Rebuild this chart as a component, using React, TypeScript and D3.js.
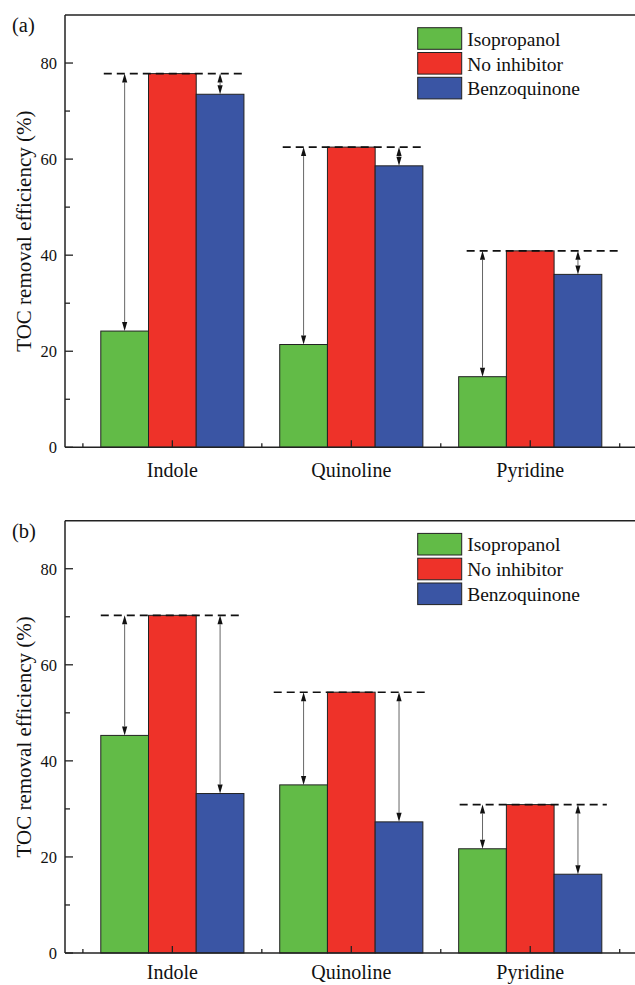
import React from "react";
import * as d3 from "d3";

const categories = ["Indole", "Quinoline", "Pyridine"];
const seriesNames = ["Isopropanol", "No inhibitor", "Benzoquinone"];
const seriesColors = ["#62BB47", "#EE3229", "#3A55A4"];

const aIsopropanol = [24.2, 21.4, 14.7];
const aNoInhibitor = [77.8, 62.5, 40.9];
const aBenzoquinone = [73.5, 58.6, 36.0];

const bIsopropanol = [45.3, 35.0, 21.7];
const bNoInhibitor = [70.3, 54.3, 30.9];
const bBenzoquinone = [33.2, 27.3, 16.4];

const yMajorTicks = [0, 20, 40, 60, 80];
const yMinorTicks = [10, 30, 50, 70];
const yDomain = [0, 90];
const xDomain = [0.4, 3.6];

// layout constants (pixels)
const W = 635;
const H = 985;
const LEFT = 65;
const RIGHT = 637.6;
const PLOT_H = 432.3;
const FONT = "'Liberation Serif', 'Times New Roman', serif";
// dashed reference line extension relative to green-left / blue-right, px
const dashA = [[3, 1], [3, 2], [8, 16]];
const dashB = [[0, -1], [-6, 3], [1, 5]];

type PanelProps = {
  top: number;
  label: string;
  iso: number[];
  none: number[];
  benzo: number[];
  dash: number[][];
  catOffset: number;
};

function Arrow({ x, y1, y2 }: { x: number; y1: number; y2: number }) {
  const hl = 9;
  const hw = 2.6;
  return (
    <g>
      <line x1={x} x2={x} y1={y1 + hl} y2={y2 - hl} stroke="#666" strokeWidth={1} />
      <path d={`M${x},${y1} L${x - hw},${y1 + hl} L${x + hw},${y1 + hl} Z`} fill="#111" />
      <path d={`M${x},${y2} L${x - hw},${y2 - hl} L${x + hw},${y2 - hl} Z`} fill="#111" />
    </g>
  );
}

function Panel({ top, label, iso, none, benzo, dash, catOffset }: PanelProps) {
  const bottom = top + PLOT_H;
  const y = d3.scaleLinear().domain(yDomain).range([bottom, top]);
  const x = d3.scaleLinear().domain(xDomain).range([LEFT, RIGHT]);
  const unit = x(1) - x(0);
  const bw = unit * (0.8 / 3);
  const series = [iso, none, benzo];
  const centers = categories.map((_, i) => i + 1);
  const minorX = [0.5, 1.5, 2.5, 3.5];

  return (
    <g>
      {categories.map((c, i) => {
        const cx = x(centers[i]);
        const start = cx - 1.5 * bw;
        return (
          <g key={c}>
            {series.map((s, k) => (
              <rect
                key={k}
                x={start + k * bw}
                y={y(s[i])}
                width={bw}
                height={bottom - y(s[i])}
                fill={seriesColors[k]}
                stroke="#222"
                strokeWidth={1}
              />
            ))}
          </g>
        );
      })}
      {categories.map((c, i) => {
        const cx = x(centers[i]);
        const start = cx - 1.5 * bw;
        const end = cx + 1.5 * bw;
        const yr = y(none[i]);
        return (
          <g key={c + "d"}>
            <line
              x1={start + dash[i][0]}
              x2={end + dash[i][1]}
              y1={yr}
              y2={yr}
              stroke="#111"
              strokeWidth={1.6}
              strokeDasharray="8,5"
            />
            <Arrow x={start + bw / 2} y1={yr} y2={y(iso[i])} />
            <Arrow x={end - bw / 2} y1={yr} y2={y(benzo[i])} />
          </g>
        );
      })}
      {/* frame (right spine lies just outside the picture) */}
      <line x1={LEFT} x2={RIGHT} y1={top} y2={top} stroke="#222" strokeWidth={1.5} />
      <line x1={LEFT} x2={RIGHT} y1={bottom} y2={bottom} stroke="#222" strokeWidth={1.5} />
      <line x1={LEFT} x2={LEFT} y1={top} y2={bottom} stroke="#222" strokeWidth={1.5} />
      {yMajorTicks.map((t) => (
        <g key={"ym" + t}>
          <line x1={LEFT} x2={LEFT + 8} y1={y(t)} y2={y(t)} stroke="#222" strokeWidth={1.3} />
          <text
            x={LEFT - 8}
            y={y(t)}
            dy="0.35em"
            textAnchor="end"
            fontFamily={FONT}
            fontSize={16.5}
            fill="#111"
          >
            {t}
          </text>
        </g>
      ))}
      {yMinorTicks.map((t) => (
        <line key={"yn" + t} x1={LEFT} x2={LEFT + 5} y1={y(t)} y2={y(t)} stroke="#222" strokeWidth={1.3} />
      ))}
      {centers.map((v, i) => (
        <g key={"xm" + v}>
          <line x1={x(v)} x2={x(v)} y1={bottom} y2={bottom - 7} stroke="#222" strokeWidth={1.3} />
          <text
            x={x(v)}
            y={bottom + catOffset}
            textAnchor="middle"
            fontFamily={FONT}
            fontSize={20}
            fill="#111"
          >
            {categories[i]}
          </text>
        </g>
      ))}
      {minorX.map((v) => (
        <line key={"xn" + v} x1={x(v)} x2={x(v)} y1={bottom} y2={bottom - 4} stroke="#222" strokeWidth={1.3} />
      ))}
      <text
        transform={`translate(31,${(top + bottom) / 2}) rotate(-90)`}
        textAnchor="middle"
        fontFamily={FONT}
        fontSize={21}
        fill="#111"
      >
        TOC removal efficiency (%)
      </text>
      <text x={12} y={top + 17} fontFamily={FONT} fontSize={20.5} fill="#111">
        {label}
      </text>
      {seriesNames.map((n, k) => (
        <g key={n} transform={`translate(417.7,${top + 12.7 + k * 24.8})`}>
          <rect x={0} y={0} width={44} height={21.6} fill={seriesColors[k]} stroke="#222" strokeWidth={1} />
          <text x={49.5} y={18} fontFamily={FONT} fontSize={19.5} fill="#111">
            {n}
          </text>
        </g>
      ))}
    </g>
  );
}

export default function App() {
  return (
    <svg
      width={W}
      height={H}
      viewBox={`0 0 ${W} ${H}`}
      style={{ position: "absolute", left: 0, top: 0, background: "#fff" }}
    >
      <rect x={0} y={0} width={W} height={H} fill="#fff" />
      <Panel top={15} label="(a)" iso={aIsopropanol} none={aNoInhibitor} benzo={aBenzoquinone} dash={dashA} catOffset={30} />
      <Panel top={520.7} label="(b)" iso={bIsopropanol} none={bNoInhibitor} benzo={bBenzoquinone} dash={dashB} catOffset={26} />
    </svg>
  );
}
